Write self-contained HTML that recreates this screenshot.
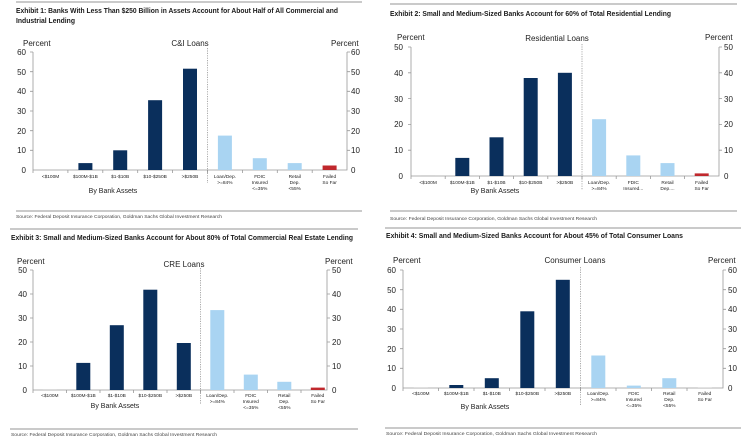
<!DOCTYPE html>
<html><head><meta charset="utf-8"><style>
body{margin:0;background:#fff}
svg{display:block}
text{font-family:"Liberation Sans",Arial,sans-serif;fill:#222}
.t{font-family:"Liberation Sans",sans-serif;font-weight:bold;font-size:7.6px;fill:#1a1a1a}
.p{font-size:8px}
.k{font-size:8px}
.c{font-size:4.8px;text-anchor:middle}
.b{font-size:7px;text-anchor:middle}
.s{font-size:4.8px;fill:#444}
.d{fill:#0a2f5c}.l{fill:#a9d4f2}.r{fill:#c0282d}
.ax{stroke:#999;stroke-width:0.8;fill:none}
.dv{stroke:#888;stroke-width:0.7;stroke-dasharray:1.2,1.2}
.ru{stroke:#aaa;stroke-width:1.2}
</style></head><body>
<svg width="749" height="444" viewBox="0 0 749 444" xmlns="http://www.w3.org/2000/svg">

<!-- Panel 1 -->
<line class="ru" x1="16" y1="2" x2="362" y2="2"/>
<text class="t" x="16" y="13" textLength="322" lengthAdjust="spacingAndGlyphs">Exhibit 1: Banks With Less Than $250 Billion in Assets Account for About Half of All Commercial and</text>
<text class="t" x="16" y="23" textLength="59" lengthAdjust="spacingAndGlyphs">Industrial Lending</text>
<text class="p" x="23" y="46">Percent</text>
<text class="p" x="190" y="46" text-anchor="middle">C&amp;I Loans</text>
<text class="p" x="331" y="46">Percent</text>
<g class="k" text-anchor="end">
<text x="26" y="173">0</text><text x="26" y="153">10</text><text x="26" y="134">20</text><text x="26" y="114">30</text><text x="26" y="94">40</text><text x="26" y="75">50</text><text x="26" y="55">60</text></g>
<g class="k">
<text x="351" y="173">0</text><text x="351" y="153">10</text><text x="351" y="134">20</text><text x="351" y="114">30</text><text x="351" y="94">40</text><text x="351" y="75">50</text><text x="351" y="55">60</text></g>
<path class="ax" d="M33 52V170H347V52M30 52H33M30 71.7H33M30 91.3H33M30 111H33M30 130.7H33M30 150.3H33M347 52H350M347 71.7H350M347 91.3H350M347 111H350M347 130.7H350M347 150.3H350M33 170v3M67.9 170v3M102.8 170v3M137.7 170v3M172.6 170v3M207.5 170v3M242.4 170v3M277.3 170v3M312.2 170v3"/>
<line class="dv" x1="207.5" y1="48" x2="207.5" y2="183"/>
<rect class="d" x="78.4" y="163.1" width="14" height="6.9"/>
<rect class="d" x="113.2" y="150.3" width="14" height="19.7"/>
<rect class="d" x="148.1" y="100.2" width="14" height="69.8"/>
<rect class="d" x="183" y="68.7" width="14" height="101.3"/>
<rect class="l" x="217.9" y="135.6" width="14" height="34.4"/>
<rect class="l" x="252.8" y="158.2" width="14" height="11.8"/>
<rect class="l" x="287.7" y="163.1" width="14" height="6.9"/>
<rect class="r" x="322.6" y="165.5" width="14" height="4.5"/>
<g class="c">
<text x="50.5" y="178">&lt;$100M</text><text x="85.4" y="178">$100M-$1B</text><text x="120.2" y="178">$1-$10B</text><text x="155.1" y="178">$10-$250B</text><text x="190" y="178">&gt;$250B</text>
<text x="224.9" y="178">Loan/Dep.</text><text x="224.9" y="184">&gt;=84%</text>
<text x="259.8" y="178">FDIC</text><text x="259.8" y="184">Insured</text><text x="259.8" y="190">&lt;=35%</text>
<text x="294.7" y="178">Retail</text><text x="294.7" y="184">Dep.</text><text x="294.7" y="190">&lt;55%</text>
<text x="329.6" y="178">Failed</text><text x="329.6" y="184">So Far</text></g>
<text class="b" x="113" y="193">By Bank Assets</text>
<line class="ru" x1="16" y1="211" x2="362" y2="211"/>
<text class="s" x="16" y="218" textLength="206" lengthAdjust="spacingAndGlyphs">Source: Federal Deposit Insurance Corporation, Goldman Sachs Global Investment Research</text>

<!-- Panel 2 -->
<line class="ru" x1="390" y1="4" x2="737" y2="4"/>
<text class="t" x="390" y="16" textLength="281" lengthAdjust="spacingAndGlyphs">Exhibit 2: Small and Medium-Sized Banks Account for 60% of Total Residential Lending</text>
<text class="p" x="397" y="40">Percent</text>
<text class="p" x="557" y="41" text-anchor="middle">Residential Loans</text>
<text class="p" x="705" y="40">Percent</text>
<g class="k" text-anchor="end">
<text x="403" y="179">0</text><text x="403" y="153">10</text><text x="403" y="127">20</text><text x="403" y="102">30</text><text x="403" y="76">40</text><text x="403" y="50">50</text></g>
<g class="k">
<text x="724" y="179">0</text><text x="724" y="153">10</text><text x="724" y="127">20</text><text x="724" y="102">30</text><text x="724" y="76">40</text><text x="724" y="50">50</text></g>
<path class="ax" d="M411 47V176H719V47M408 47H411M408 72.8H411M408 98.6H411M408 124.4H411M408 150.2H411M719 47H722M719 72.8H722M719 98.6H722M719 124.4H722M719 150.2H722M411 176v3M445.2 176v3M479.4 176v3M513.6 176v3M547.8 176v3M582 176v3M616.2 176v3M650.4 176v3M684.6 176v3"/>
<line class="dv" x1="582" y1="44" x2="582" y2="190"/>
<rect x="421.1" y="175.2" width="14" height="0.8" style="fill:#ccc"/>
<rect class="d" x="455.3" y="157.9" width="14" height="18.1"/>
<rect class="d" x="489.5" y="137.3" width="14" height="38.7"/>
<rect class="d" x="523.7" y="78" width="14" height="98"/>
<rect class="d" x="557.9" y="72.8" width="14" height="103.2"/>
<rect class="l" x="592.1" y="119.2" width="14" height="56.8"/>
<rect class="l" x="626.3" y="155.4" width="14" height="20.6"/>
<rect class="l" x="660.5" y="163.1" width="14" height="12.9"/>
<rect class="r" x="694.7" y="173.4" width="14" height="2.6"/>
<g class="c">
<text x="428.1" y="184">&lt;$100M</text><text x="462.3" y="184">$100M-$1B</text><text x="496.5" y="184">$1-$10B</text><text x="530.7" y="184">$10-$250B</text><text x="564.9" y="184">&gt;$250B</text>
<text x="599.1" y="184">Loan/Dep.</text><text x="599.1" y="190">&gt;=84%</text>
<text x="633.3" y="184">FDIC</text><text x="633.3" y="190">Insured...</text>
<text x="667.5" y="184">Retail</text><text x="667.5" y="190">Dep....</text>
<text x="701.7" y="184">Failed</text><text x="701.7" y="190">So Far</text></g>
<text class="b" x="495" y="193">By Bank Assets</text>
<line class="ru" x1="390" y1="211" x2="737" y2="211"/>
<text class="s" x="390" y="220" textLength="207" lengthAdjust="spacingAndGlyphs">Source: Federal Deposit Insurance Corporation, Goldman Sachs Global Investment Research</text>

<!-- Panel 3 -->
<line class="ru" x1="10" y1="229" x2="358" y2="229"/>
<text class="t" x="11" y="240" textLength="342" lengthAdjust="spacingAndGlyphs">Exhibit 3: Small and Medium-Sized Banks Account for About 80% of Total Commercial Real Estate Lending</text>
<text class="p" x="17" y="264">Percent</text>
<text class="p" x="184" y="267" text-anchor="middle">CRE Loans</text>
<text class="p" x="325" y="264">Percent</text>
<g class="k" text-anchor="end">
<text x="27" y="393">0</text><text x="27" y="369">10</text><text x="27" y="345">20</text><text x="27" y="321">30</text><text x="27" y="297">40</text><text x="27" y="273">50</text></g>
<g class="k">
<text x="332" y="393">0</text><text x="332" y="369">10</text><text x="332" y="345">20</text><text x="332" y="321">30</text><text x="332" y="297">40</text><text x="332" y="273">50</text></g>
<path class="ax" d="M33 270V390H327V270M30 270H33M30 294H33M30 318H33M30 342H33M30 366H33M327 270H330M327 294H330M327 318H330M327 342H330M327 366H330M33 390v3M66.5 390v3M100 390v3M133.5 390v3M167 390v3M200.5 390v3M234 390v3M267.5 390v3M301 390v3"/>
<line class="dv" x1="200.5" y1="268" x2="200.5" y2="404"/>
<rect x="42.8" y="389.3" width="14" height="0.7" style="fill:#ccc"/>
<rect class="d" x="76.3" y="362.9" width="14" height="27.1"/>
<rect class="d" x="109.8" y="325.2" width="14" height="64.8"/>
<rect class="d" x="143.3" y="289.7" width="14" height="100.3"/>
<rect class="d" x="176.8" y="343" width="14" height="47"/>
<rect class="l" x="210.3" y="310.1" width="14" height="79.9"/>
<rect class="l" x="243.8" y="374.6" width="14" height="15.4"/>
<rect class="l" x="277.3" y="381.8" width="14" height="8.2"/>
<rect class="r" x="310.8" y="387.6" width="14" height="2.4"/>
<g class="c">
<text x="49.8" y="397">&lt;$100M</text><text x="83.3" y="397">$100M-$1B</text><text x="116.8" y="397">$1-$10B</text><text x="150.3" y="397">$10-$250B</text><text x="183.8" y="397">&gt;$250B</text>
<text x="217.3" y="397">Loan/Dep.</text><text x="217.3" y="403">&gt;=84%</text>
<text x="250.8" y="397">FDIC</text><text x="250.8" y="403">Insured</text><text x="250.8" y="409">&lt;=35%</text>
<text x="284.3" y="397">Retail</text><text x="284.3" y="403">Dep.</text><text x="284.3" y="409">&lt;55%</text>
<text x="317.8" y="397">Failed</text><text x="317.8" y="403">So Far</text></g>
<text class="b" x="115" y="408">By Bank Assets</text>
<line class="ru" x1="10" y1="429" x2="358" y2="429"/>
<text class="s" x="11" y="436" textLength="206" lengthAdjust="spacingAndGlyphs">Source: Federal Deposit Insurance Corporation, Goldman Sachs Global Investment Research</text>

<!-- Panel 4 -->
<line class="ru" x1="385" y1="228" x2="741" y2="228"/>
<text class="t" x="386" y="238" textLength="297" lengthAdjust="spacingAndGlyphs">Exhibit 4: Small and Medium-Sized Banks Account for About 45% of Total Consumer Loans</text>
<text class="p" x="393" y="263">Percent</text>
<text class="p" x="575" y="263" text-anchor="middle">Consumer Loans</text>
<text class="p" x="708" y="263">Percent</text>
<g class="k" text-anchor="end">
<text x="396" y="391">0</text><text x="396" y="371">10</text><text x="396" y="352">20</text><text x="396" y="332">30</text><text x="396" y="312">40</text><text x="396" y="293">50</text><text x="396" y="273">60</text></g>
<g class="k">
<text x="728" y="391">0</text><text x="728" y="371">10</text><text x="728" y="352">20</text><text x="728" y="332">30</text><text x="728" y="312">40</text><text x="728" y="293">50</text><text x="728" y="273">60</text></g>
<path class="ax" d="M403 270V388H723V270M400 270H403M400 289.7H403M400 309.3H403M400 329H403M400 348.7H403M400 368.3H403M723 270H726M723 289.7H726M723 309.3H726M723 329H726M723 348.7H726M723 368.3H726M403 388v3M438.5 388v3M474 388v3M509.5 388v3M545 388v3M580.5 388v3M616 388v3M651.5 388v3M687 388v3"/>
<line class="dv" x1="580.5" y1="267" x2="580.5" y2="405"/>
<rect x="413.8" y="387.4" width="14" height="0.6" style="fill:#ccc"/>
<rect class="d" x="449.3" y="385" width="14" height="3"/>
<rect class="d" x="484.8" y="378.2" width="14" height="9.8"/>
<rect class="d" x="520.3" y="311.3" width="14" height="76.7"/>
<rect class="d" x="555.8" y="279.8" width="14" height="108.2"/>
<rect class="l" x="591.3" y="355.5" width="14" height="32.5"/>
<rect class="l" x="626.8" y="385.6" width="14" height="2.4"/>
<rect class="l" x="662.3" y="378.2" width="14" height="9.8"/>
<rect x="697.8" y="387.6" width="14" height="0.4" style="fill:#ccc"/>
<g class="c">
<text x="420.8" y="395">&lt;$100M</text><text x="456.3" y="395">$100M-$1B</text><text x="491.8" y="395">$1-$10B</text><text x="527.3" y="395">$10-$250B</text><text x="562.8" y="395">&gt;$250B</text>
<text x="598.3" y="395">Loan/Dep.</text><text x="598.3" y="401">&gt;=84%</text>
<text x="633.8" y="395">FDIC</text><text x="633.8" y="401">Insured</text><text x="633.8" y="407">&lt;=35%</text>
<text x="669.3" y="395">Retail</text><text x="669.3" y="401">Dep.</text><text x="669.3" y="407">&lt;55%</text>
<text x="704.8" y="395">Failed</text><text x="704.8" y="401">So Far</text></g>
<text class="b" x="485" y="409">By Bank Assets</text>
<line class="ru" x1="385" y1="428" x2="741" y2="428"/>
<text class="s" x="386" y="435" textLength="211" lengthAdjust="spacingAndGlyphs">Source: Federal Deposit Insurance Corporation, Goldman Sachs Global Investment Research</text>
</svg>
</body></html>
